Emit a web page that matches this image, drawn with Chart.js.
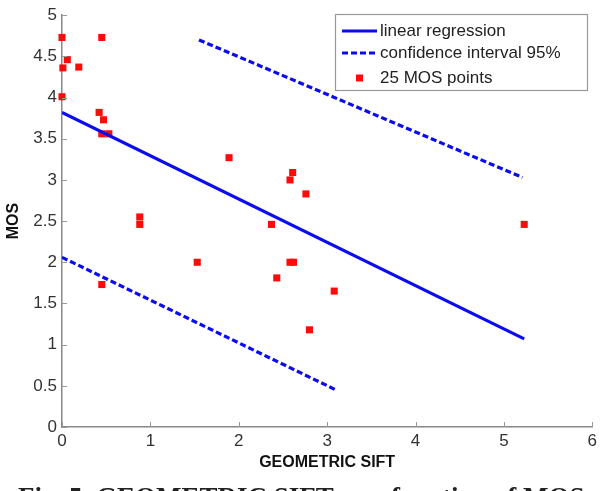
<!DOCTYPE html>
<html>
<head>
<meta charset="utf-8">
<script src="https://cdn.jsdelivr.net/npm/chart.js@4"></script>
<style>
  html, body { margin: 0; padding: 0; background: #fff; overflow: hidden; width: 601px; height: 491px; }
  #wrap { position: absolute; left: 0; top: 0; width: 601px; height: 491px; }
  #caption { position: absolute; left: 18px; top: 484px; font: bold 27px "Liberation Serif", "DejaVu Serif", serif; line-height: 1; white-space: nowrap; color: #222; }
</style>
</head>
<body>
<div id="wrap"><canvas id="c" width="601" height="491"></canvas></div>
<div id="caption">Fig. 5. GEOMETRIC SIFT as a function of MOS</div>
<script>
// ---- data ----
const xTicks = [0, 1, 2, 3, 4, 5, 6];
const yTicks = [0, 0.5, 1, 1.5, 2, 2.5, 3, 3.5, 4, 4.5, 5];
const mosX = [0, 0.45, 0.06, 0.01, 0.19, 0, 0.42, 0.47, 0.45, 0.53, 1.89, 2.61, 2.58, 2.76, 0.88, 0.88, 2.37, 5.23, 1.53, 2.58, 2.62, 2.43, 0.45, 3.08, 2.80];
const mosY = [4.73, 4.73, 4.46, 4.36, 4.37, 4.01, 3.82, 3.73, 3.56, 3.56, 3.27, 3.09, 3.00, 2.83, 2.55, 2.46, 2.46, 2.46, 2.00, 2.00, 2.00, 1.81, 1.73, 1.65, 1.18];
const regX = [0, 5.23];
const regY = [3.82, 1.07];
const ciUpX = [1.55, 5.21];
const ciUpY = [4.70, 3.03];
const ciLoX = [0, 3.10];
const ciLoY = [2.06, 0.45];
const seriesLabels = ["linear regression", "confidence interval 95%", "25 MOS points"];
const xTitle = "GEOMETRIC SIFT";
const yTitle = "MOS";

const zip = (xs, ys) => xs.map((x, i) => ({ x: x, y: ys[i] }));
const BLUE = '#0b0bf0';
const RED = '#ff0a0a';

const innerTicks = {
  id: 'innerTicks',
  afterDraw(chart) {
    const ctx = chart.ctx, xs = chart.scales.x, ys = chart.scales.y, a = chart.chartArea;
    ctx.save();
    ctx.strokeStyle = '#999';
    ctx.lineWidth = 1;
    xTicks.forEach(v => {
      const px = Math.round(xs.getPixelForValue(v)) + 0.5;
      ctx.beginPath(); ctx.moveTo(px, a.bottom); ctx.lineTo(px, a.bottom - 5); ctx.stroke();
    });
    yTicks.forEach(v => {
      const py = Math.round(ys.getPixelForValue(v)) + 0.5;
      ctx.beginPath(); ctx.moveTo(a.left, py); ctx.lineTo(a.left + 5, py); ctx.stroke();
    });
    ctx.restore();
  }
};

const boxLegend = {
  id: 'boxLegend',
  afterDraw(chart) {
    const ctx = chart.ctx;
    const ds = chart.data.datasets;
    const bx = 335, by = 14, bw = 252, bh = 76;
    ctx.save();
    ctx.fillStyle = '#fff';
    ctx.fillRect(bx, by, bw, bh);
    ctx.strokeStyle = '#999';
    ctx.lineWidth = 1.2;
    ctx.strokeRect(bx + 0.5, by + 0.5, bw, bh);
    const rows = [31, 53, 78];
    ctx.font = '17px "Liberation Sans", Arial, sans-serif';
    ctx.textBaseline = 'middle';
    ctx.fillStyle = '#222';
    rows.forEach((ry, i) => {
      const d = ds[i];
      if (i < 2) {
        ctx.strokeStyle = d.borderColor;
        ctx.lineWidth = 3;
        ctx.setLineDash(d.borderDash || []);
        ctx.beginPath(); ctx.moveTo(342, ry); ctx.lineTo(377, ry); ctx.stroke();
        ctx.setLineDash([]);
      } else {
        ctx.fillStyle = d.backgroundColor;
        ctx.fillRect(356, ry - 3.5, 7, 7);
      }
      ctx.fillStyle = '#222';
      ctx.fillText(d.label, 380, ry);
    });
    ctx.restore();
  }
};

new Chart(document.getElementById('c'), {
  type: 'scatter',
  data: {
    datasets: [
      { label: seriesLabels[0], data: zip(regX, regY), showLine: true, borderColor: BLUE, borderWidth: 3.2, pointRadius: 0, fill: false },
      { label: seriesLabels[1], data: zip(ciUpX, ciUpY), showLine: true, borderColor: BLUE, borderWidth: 3.2, borderDash: [6, 3], pointRadius: 0, fill: false },
      { label: seriesLabels[2], data: zip(mosX, mosY), showLine: false, clip: false, backgroundColor: RED, borderColor: RED, borderWidth: 0, pointStyle: 'rect', pointRadius: 5 },
      { label: seriesLabels[1] + ' (lower)', data: zip(ciLoX, ciLoY), showLine: true, borderColor: BLUE, borderWidth: 3.2, borderDash: [6, 3], pointRadius: 0, fill: false }
    ]
  },
  options: {
    responsive: false,
    animation: false,
    layout: { padding: { top: 8, right: 8, bottom: 19, left: 0 } },
    plugins: { legend: { display: false }, tooltip: { enabled: false } },
    scales: {
      x: {
        type: 'linear', min: 0, max: 6,
        afterBuildTicks: s => { s.ticks = xTicks.map(v => ({ value: v })); },
        afterFit: s => { s.height = 45; },
        grid: { display: false, drawTicks: false },
        border: { display: true, color: '#888', width: 1.5 },
        ticks: { padding: 4, color: '#333', callback: v => String(v), font: { family: '"Liberation Sans", Arial, sans-serif', size: 17 }, maxRotation: 0 },
        title: { display: true, text: xTitle, color: '#111', padding: { top: 0, bottom: 0 }, font: { family: '"Liberation Sans", Arial, sans-serif', size: 16, weight: 'bold' } }
      },
      y: {
        type: 'linear', min: 0, max: 5,
        afterBuildTicks: s => { s.ticks = yTicks.map(v => ({ value: v })); },
        afterFit: s => { s.width = 62; },
        grid: { display: false, drawTicks: false },
        border: { display: true, color: '#888', width: 1.5 },
        ticks: { padding: 5, color: '#333', callback: v => String(v), font: { family: '"Liberation Sans", Arial, sans-serif', size: 17 } },
        title: { display: true, text: yTitle, color: '#111', padding: { top: 4, bottom: 0 }, font: { family: '"Liberation Sans", Arial, sans-serif', size: 16, weight: 'bold' } }
      }
    }
  },
  plugins: [innerTicks, boxLegend]
});
</script>
</body>
</html>
